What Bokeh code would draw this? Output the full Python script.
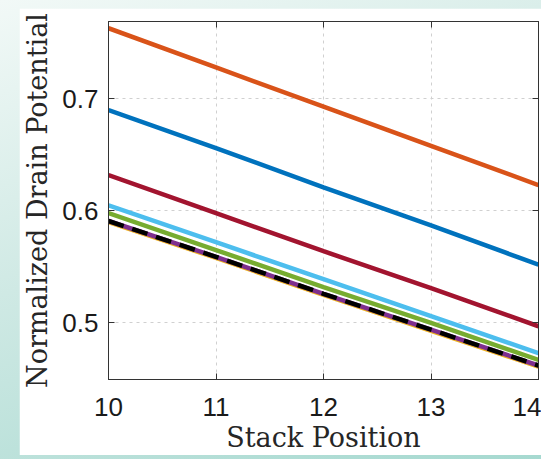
from bokeh.plotting import figure
from bokeh.models import LinearAxis, Range1d, FixedTicker
from bokeh.layouts import column
from bokeh.embed import file_html
from bokeh.resources import INLINE

# Data
stack_position = [10, 11, 12, 13, 14]
series_orange = [0.763, 0.728, 0.693, 0.658, 0.623]
series_blue = [0.690, 0.656, 0.621, 0.587, 0.552]
series_red = [0.632, 0.598, 0.564, 0.531, 0.497]
series_lightblue = [0.605, 0.572, 0.539, 0.506, 0.473]
series_green = [0.598, 0.565, 0.532, 0.500, 0.467]
series_yellow = [0.590, 0.558, 0.525, 0.493, 0.461]
series_purple = [0.591, 0.559, 0.526, 0.494, 0.462]
series_black = [0.591, 0.559, 0.526, 0.494, 0.462]
x_ticks = [10, 11, 12, 13, 14]
y_ticks = [0.5, 0.6, 0.7]

AX = "#333333"
TICK_FONT = "Liberation Sans"
LABEL_FONT = "DejaVu Serif"

p = figure(width=522, height=447, output_backend="svg", toolbar_location=None,
           x_range=Range1d(10, 14), y_range=Range1d(0.4495, 0.769),
           min_border_left=89, min_border_right=3, min_border_top=13, min_border_bottom=76,
           background_fill_color="white", border_fill_color="white")
p.outline_line_color = AX
p.outline_line_width = 1

lw = 4.5
p.line(stack_position, series_orange, color="#D95319", line_width=lw)
p.line(stack_position, series_blue, color="#0072BD", line_width=lw)
p.line(stack_position, series_red, color="#A2142F", line_width=lw)
p.line(stack_position, series_lightblue, color="#4DBEEE", line_width=lw)
p.line(stack_position, series_green, color="#77AC30", line_width=lw)
p.line(stack_position, series_yellow, color="#EDB120", line_width=lw)
p.line(stack_position, series_purple, color="#7E2F8E", line_width=lw)
p.line(stack_position, series_black, color="black", line_width=lw, line_dash="16 9")

for ax in (p.xaxis[0], p.yaxis[0]):
    ax.axis_line_color = AX
    ax.major_tick_line_color = AX
    ax.major_tick_in = 6
    ax.major_tick_out = 0
    ax.minor_tick_line_color = None
    ax.major_label_text_font = TICK_FONT
    ax.major_label_text_font_size = "26px"
    ax.major_label_text_color = "#1a1a1a"
    ax.axis_label_text_font = LABEL_FONT
    ax.axis_label_text_font_size = "27px"
    ax.axis_label_text_font_style = "normal"
    ax.axis_label_text_color = "#262626"

p.xaxis[0].ticker = FixedTicker(ticks=x_ticks)
p.yaxis[0].ticker = FixedTicker(ticks=y_ticks)
p.xaxis[0].axis_label = "Stack Position"
p.yaxis[0].axis_label = "Normalized Drain Potential"
p.xaxis[0].major_label_standoff = 18
p.xaxis[0].axis_label_standoff = 3
p.yaxis[0].major_label_standoff = 10
p.yaxis[0].axis_label_standoff = 6

top = LinearAxis(ticker=FixedTicker(ticks=x_ticks), major_label_text_font_size="0px",
                 axis_line_color=AX, major_tick_line_color=AX, major_tick_in=6, major_tick_out=0,
                 minor_tick_line_color=None, major_label_standoff=0)
right = LinearAxis(ticker=FixedTicker(ticks=y_ticks), major_label_text_font_size="0px",
                   axis_line_color=AX, major_tick_line_color=AX, major_tick_in=6, major_tick_out=0,
                   minor_tick_line_color=None, major_label_standoff=0)
top.major_label_overrides = {t: "" for t in x_ticks}
right.major_label_overrides = {t: "" for t in y_ticks}
p.add_layout(top, "above")
p.add_layout(right, "right")

for g in (p.xgrid[0], p.ygrid[0]):
    g.ticker = FixedTicker(ticks=x_ticks if g is p.xgrid[0] else y_ticks)
    g.grid_line_color = "#d0d0d0"
    g.grid_line_dash = "3 4"
    g.grid_line_width = 1

layout = column(p, styles={"background": "linear-gradient(160deg, #f2f9f7 0%, #cfe9e4 45%, #a6d9d0 100%)",
                           "padding": "8px 0px 4px 19px"})

open("out.html", "w").write(file_html(layout, INLINE))
